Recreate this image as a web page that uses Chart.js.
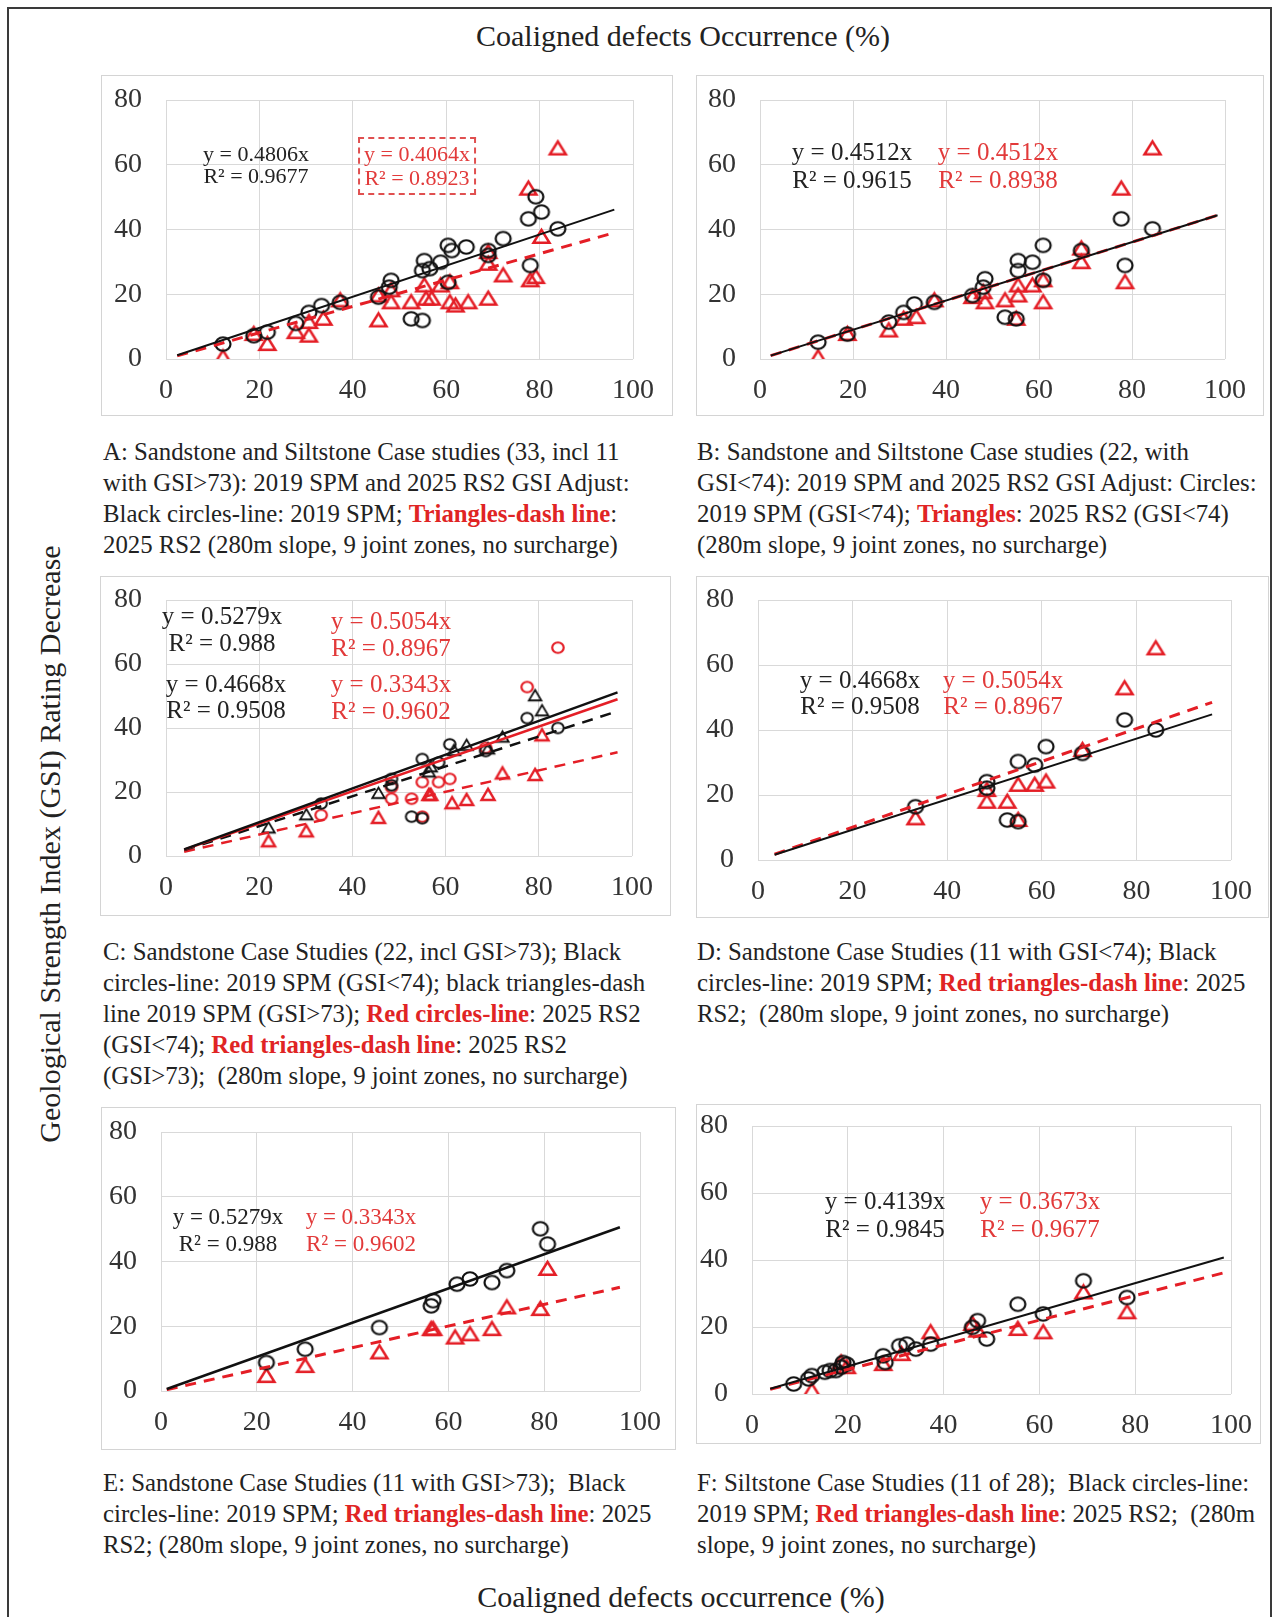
<!DOCTYPE html>
<html>
<head>
<meta charset="utf-8">
<script src="https://cdn.jsdelivr.net/npm/chart.js@4.4.1/dist/chart.umd.min.js"></script>
<style>
  body { margin: 0; width: 1274px; height: 1617px; position: relative; overflow: hidden; background: #fff;
         font-family: "Liberation Serif", "Times New Roman", serif; color: #222; }
  .frame { position: absolute; left: 7px; top: 7px; width: 1265px; height: 1660px; border: 2px solid #3a3a3a; box-sizing: border-box; }
  .box { position: absolute; border: 1px solid #d4d4d4; box-sizing: border-box; }
  canvas { position: absolute; }
  .cap { position: absolute; font-size: 24.8px; line-height: 31px; white-space: nowrap; }
  .cap b { color: #e02424; }
  .eq { position: absolute; white-space: nowrap; text-align: center; transform: translateX(-50%); }
  .red { color: #e23a3a; }
  .title { position: absolute; font-size: 30px; white-space: nowrap; transform: translate(-50%, -50%); }
</style>
</head>
<body>
<div class="frame"></div>

<div class="title" style="left:683px; top:36px;">Coaligned defects Occurrence (%)</div>
<div class="title" style="left:681px; top:1597px;">Coaligned defects occurrence (%)</div>
<div class="title" style="left:50px; top:844px; transform: translate(-50%, -50%) rotate(-90deg);">Geological Strength Index (GSI) Rating Decrease</div>

<div class="cap" style="left:103px; top:436px;">A: Sandstone and Siltstone Case studies (33, incl 11<br>with GSI&gt;73): 2019 SPM and 2025 RS2 GSI Adjust:<br>Black circles-line: 2019 SPM; <b>Triangles-dash line</b>:<br>2025 RS2 (280m slope, 9 joint zones, no surcharge)</div>
<div class="cap" style="left:697px; top:436px;">B: Sandstone and Siltstone Case studies (22, with<br>GSI&lt;74): 2019 SPM and 2025 RS2 GSI Adjust: Circles:<br>2019 SPM (GSI&lt;74); <b>Triangles</b>: 2025 RS2 (GSI&lt;74)<br>(280m slope, 9 joint zones, no surcharge)</div>
<div class="cap" style="left:103px; top:936px;">C: Sandstone Case Studies (22, incl GSI&gt;73); Black<br>circles-line: 2019 SPM (GSI&lt;74); black triangles-dash<br>line 2019 SPM (GSI&gt;73); <b>Red circles-line</b>: 2025 RS2<br>(GSI&lt;74); <b>Red triangles-dash line</b>: 2025 RS2<br>(GSI&gt;73);&nbsp; (280m slope, 9 joint zones, no surcharge)</div>
<div class="cap" style="left:697px; top:936px;">D: Sandstone Case Studies (11 with GSI&lt;74); Black<br>circles-line: 2019 SPM; <b>Red triangles-dash line</b>: 2025<br>RS2;&nbsp; (280m slope, 9 joint zones, no surcharge)</div>
<div class="cap" style="left:103px; top:1467px;">E: Sandstone Case Studies (11 with GSI&gt;73);&nbsp; Black<br>circles-line: 2019 SPM; <b>Red triangles-dash line</b>: 2025<br>RS2; (280m slope, 9 joint zones, no surcharge)</div>
<div class="cap" style="left:697px; top:1467px;">F: Siltstone Case Studies (11 of 28);&nbsp; Black circles-line:<br>2019 SPM; <b>Red triangles-dash line</b>: 2025 RS2;&nbsp; (280m<br>slope, 9 joint zones, no surcharge)</div>

<script>
// axis ticks shared by every panel
const xTicks = [0, 20, 40, 60, 80, 100];
const yTicks = [0, 20, 40, 60, 80];

// A: sandstone + siltstone, all cases
const aSpmX = [12.2, 18.8, 21.7, 27.8, 30.6, 33.3, 37.3, 45.5, 47.8, 48.2, 52.5, 54.9, 54.9, 55.3, 56.5, 58.8, 60.4, 60.4, 61.2, 64.3, 69.0, 69.0, 72.2, 77.6, 78.0, 79.2, 80.4, 83.9];
const aSpmY = [4.6, 7.2, 8.3, 11.0, 14.4, 16.5, 17.5, 19.1, 22.2, 24.3, 12.4, 11.9, 27.3, 30.4, 27.9, 29.9, 23.7, 35.1, 33.5, 34.6, 32.0, 33.5, 37.2, 43.3, 28.9, 50.1, 45.4, 40.2];
const aRs2X = [12.2, 18.8, 21.7, 27.8, 30.6, 30.6, 33.7, 37.3, 45.5, 45.5, 48.2, 48.2, 52.5, 55.3, 55.7, 56.9, 58.8, 60.8, 60.8, 62.0, 64.7, 69.0, 69.0, 69.0, 72.2, 77.6, 78.0, 79.2, 80.4, 83.9];
const aRs2Y = [0.5, 7.7, 4.6, 8.3, 7.2, 11.4, 12.4, 18.1, 11.9, 19.6, 17.5, 21.2, 17.5, 22.7, 18.6, 18.6, 22.7, 23.7, 17.5, 16.5, 17.5, 18.6, 29.4, 33.0, 25.8, 52.6, 24.3, 25.3, 37.7, 65.0];

// B: sandstone + siltstone, GSI<74
const bSpmX = [12.5, 18.8, 27.7, 30.9, 33.2, 37.5, 45.7, 48.0, 48.4, 52.7, 55.1, 55.5, 55.5, 58.6, 60.9, 60.9, 69.1, 77.7, 78.5, 84.4];
const bSpmY = [5.2, 7.7, 11.4, 14.4, 17.0, 17.5, 19.6, 22.2, 24.8, 12.9, 12.4, 27.3, 30.4, 29.9, 24.3, 35.1, 33.5, 43.3, 28.9, 40.2];
const bRs2X = [12.5, 18.8, 27.7, 30.9, 33.6, 37.5, 45.7, 48.0, 48.4, 52.7, 55.1, 55.5, 55.5, 58.6, 60.9, 60.9, 69.1, 69.1, 77.7, 78.5, 84.4];
const bRs2Y = [0.5, 7.7, 8.8, 12.4, 12.9, 18.1, 19.1, 20.6, 17.5, 18.1, 12.4, 19.6, 22.7, 22.7, 24.3, 17.5, 29.9, 34.1, 52.6, 23.7, 65.0];

// D: sandstone GSI<74 (also the circles in C)
const dSpmX = [33.3, 48.4, 48.4, 52.7, 55.0, 55.0, 58.5, 60.9, 68.6, 77.5, 84.1];
const dSpmY = [16.4, 22.1, 24.1, 12.3, 11.8, 30.3, 29.2, 34.9, 32.8, 43.1, 40.0];
const dRs2X = [33.3, 48.4, 48.4, 52.7, 55.0, 55.0, 58.5, 60.9, 68.6, 77.5, 84.1];
const dRs2Y = [12.8, 17.9, 21.5, 17.9, 12.3, 23.1, 23.1, 24.1, 33.8, 52.8, 65.1];

// E: sandstone GSI>73 (also the triangles in C)
const eSpmX = [22.0, 30.1, 45.6, 56.4, 56.8, 61.8, 64.5, 69.1, 72.2, 79.2, 80.7];
const eSpmY = [8.8, 12.9, 19.6, 26.3, 27.9, 33.0, 34.6, 33.5, 37.2, 50.1, 45.4];
const eRs2X = [22.0, 30.1, 45.6, 56.4, 56.8, 61.4, 64.5, 69.1, 72.2, 79.2, 80.7];
const eRs2Y = [4.6, 7.7, 11.9, 19.1, 19.1, 16.5, 17.5, 19.1, 25.8, 25.3, 37.7];

// F: siltstone
const fSpmX = [8.7, 11.8, 12.5, 15.2, 16.3, 17.5, 18.6, 19.0, 19.8, 27.4, 27.8, 30.8, 32.3, 34.2, 37.3, 46.0, 47.1, 49.0, 55.5, 60.8, 69.2, 78.3];
const fSpmY = [3.0, 4.5, 5.5, 6.5, 7.0, 7.0, 8.0, 9.4, 8.9, 11.4, 9.4, 14.4, 14.9, 13.4, 14.9, 19.9, 21.9, 16.4, 26.8, 23.9, 33.8, 28.8];
const fRs2X = [12.5, 18.6, 19.8, 27.4, 31.2, 37.3, 46.0, 47.1, 55.5, 60.8, 69.2, 78.3];
const fRs2Y = [1.0, 9.4, 8.0, 8.9, 11.9, 18.4, 20.9, 18.9, 19.4, 18.4, 30.3, 24.4];

// trendline slopes (y = kx) and x-extent of each drawn trendline
const slopesA = [0.4806, 0.4064];
const slopesB = [0.4512, 0.4512];
const slopesC = [0.5279, 0.4668, 0.5054, 0.3343];
const slopesD = [0.4668, 0.5054];
const slopesE = [0.5279, 0.3343];
const slopesF = [0.4139, 0.3673];
const rangeA = [2.4, 96], rangeB = [2.3, 98.4], rangeC = [3.9, 96.9];
const rangeD = [3.5, 96], rangeE = [1.2, 95.8], rangeF = [3.8, 98.5];

const BLACK = "#111111", RED = "#e41e26";
const FONT = "'Liberation Serif', 'Times New Roman', serif";

const pts = (xs, ys) => xs.map((x, i) => ({ x: x, y: ys[i] }));
const trend = (k, r) => r.map(x => ({ x: x, y: k * x }));

// hollow marker sprites (slightly wider than tall, as in the source figure)
function sprite(shape, color, w, h, lw) {
  const c = document.createElement("canvas");
  c.width = Math.ceil(w + lw * 2 + 2); c.height = Math.ceil(h + lw * 2 + 2);
  const g = c.getContext("2d");
  const cx = c.width / 2, cy = c.height / 2;
  g.strokeStyle = color; g.lineWidth = lw; g.lineJoin = "miter";
  g.beginPath();
  if (shape === "circle") {
    g.ellipse(cx, cy, w / 2, h / 2, 0, 0, Math.PI * 2);
  } else {
    g.moveTo(cx, cy - h * 0.55);
    g.lineTo(cx + w / 2, cy + h * 0.45);
    g.lineTo(cx - w / 2, cy + h * 0.45);
    g.closePath();
  }
  g.stroke();
  return c;
}

function markers(data, img) {
  return { data: data, showLine: false, pointStyle: img, pointRadius: 8, pointHoverRadius: 8 };
}
function line(data, color, w, dash) {
  return {
    type: "line", data: data, borderColor: color, borderWidth: w, borderDash: dash || [],
    pointRadius: 0, fill: false, tension: 0
  };
}

const blackCircle = sprite("circle", BLACK, 15, 13.5, 2.2);
const redTriangle = sprite("triangle", RED, 16, 13, 2.5);
const smallBlackCircle = sprite("circle", BLACK, 11.5, 10.5, 2);
const smallRedCircle = sprite("circle", RED, 11.5, 10.5, 2.2);
const smallBlackTriangle = sprite("triangle", BLACK, 12.5, 10.5, 1.8);
const smallRedTriangle = sprite("triangle", RED, 13, 11, 2.4);

function panel(box, plot, datasets) {
  const w = box.r - box.l, h = box.b - box.t;
  const c = document.createElement("canvas");
  c.width = w; c.height = h;
  c.style.left = box.l + "px"; c.style.top = box.t + "px";
  c.style.width = w + "px"; c.style.height = h + "px";
  document.body.appendChild(c);
  const frame = document.createElement("div");
  frame.className = "box";
  frame.style.cssText = `left:${box.l}px;top:${box.t}px;width:${w}px;height:${h}px;`;
  document.body.appendChild(frame);

  const tickFont = { family: FONT, size: 28 };
  new Chart(c, {
    type: "scatter",
    data: { datasets: datasets },
    options: {
      responsive: false, animation: false, devicePixelRatio: 1,
      layout: { padding: { top: plot.t - box.t, right: box.r - plot.r, left: 0, bottom: 0 } },
      plugins: { legend: { display: false }, tooltip: { enabled: false } },
      scales: {
        x: {
          type: "linear", min: 0, max: 100,
          afterBuildTicks: s => { s.ticks = xTicks.map(v => ({ value: v })); },
          afterFit: s => { s.height = box.b - plot.b; s.paddingLeft = 0; s.paddingRight = 0; },
          grid: { color: "#d9d9d9", drawTicks: false },
          border: { display: false },
          ticks: { font: tickFont, color: "#333", padding: 15, maxRotation: 0 }
        },
        y: {
          type: "linear", min: 0, max: 80,
          afterBuildTicks: s => { s.ticks = yTicks.map(v => ({ value: v })); },
          afterFit: s => { s.width = plot.l - box.l; s.paddingTop = 0; s.paddingBottom = 0; },
          grid: { color: "#d9d9d9", drawTicks: false },
          border: { display: false },
          ticks: { font: tickFont, color: "#333", padding: 24 }
        }
      }
    }
  });
}

function eq(cx, top, size, lh, lines, red, boxed) {
  const d = document.createElement("div");
  d.className = "eq" + (red ? " red" : "");
  d.style.left = cx + "px"; d.style.top = top + "px";
  d.style.fontSize = size + "px"; d.style.lineHeight = lh + "px";
  d.innerHTML = lines.join("<br>");
  if (boxed) {
    d.style.border = "2px dashed #e05050";
    d.style.padding = "3px 4px";
  }
  document.body.appendChild(d);
}

// ---- A
panel({ l: 101, t: 75, r: 673, b: 416 }, { l: 166, t: 100, r: 633, b: 359 }, [
  line(trend(slopesA[0], rangeA), BLACK, 2),
  line(trend(slopesA[1], rangeA), RED, 3, [11, 8]),
  markers(pts(aSpmX, aSpmY), blackCircle),
  markers(pts(aRs2X, aRs2Y), redTriangle)
]);
eq(256, 143, 22, 22, ["y = 0.4806x", "R² = 0.9677"], false);
eq(417, 137, 22, 24, ["y = 0.4064x", "R² = 0.8923"], true, true);

// ---- B
panel({ l: 696, t: 75, r: 1264, b: 416 }, { l: 760, t: 100, r: 1225, b: 359 }, [
  line(trend(slopesB[0], rangeB), BLACK, 2),
  line(trend(slopesB[1], rangeB), RED, 3, [11, 8]),
  markers(pts(bSpmX, bSpmY), blackCircle),
  markers(pts(bRs2X, bRs2Y), redTriangle)
]);
eq(852, 138, 25, 28, ["y = 0.4512x", "R² = 0.9615"], false);
eq(998, 138, 25, 28, ["y = 0.4512x", "R² = 0.8938"], true);

// ---- C
panel({ l: 100, t: 576, r: 671, b: 916 }, { l: 166, t: 600, r: 632, b: 856 }, [
  line(trend(slopesC[0], rangeC), BLACK, 2.5),
  line(trend(slopesC[2], rangeC), RED, 2.5),
  line(trend(slopesC[1], rangeC), BLACK, 2.5, [11, 8]),
  line(trend(slopesC[3], rangeC), RED, 2.5, [11, 8]),
  markers(pts(dSpmX, dSpmY), smallBlackCircle),
  markers(pts(eSpmX, eSpmY), smallBlackTriangle),
  markers(pts(dRs2X, dRs2Y), smallRedCircle),
  markers(pts(eRs2X, eRs2Y), smallRedTriangle)
]);
eq(222, 602, 25, 27, ["y = 0.5279x", "R² = 0.988"], false);
eq(226, 671, 25, 26, ["y = 0.4668x", "R² = 0.9508"], false);
eq(391, 607, 25, 27, ["y = 0.5054x", "R² = 0.8967"], true);
eq(391, 670, 25, 27, ["y = 0.3343x", "R² = 0.9602"], true);

// ---- D
panel({ l: 696, t: 576, r: 1269, b: 918 }, { l: 758, t: 600, r: 1231, b: 860 }, [
  line(trend(slopesD[0], rangeD), BLACK, 2),
  line(trend(slopesD[1], rangeD), RED, 3, [11, 8]),
  markers(pts(dSpmX, dSpmY), blackCircle),
  markers(pts(dRs2X, dRs2Y), redTriangle)
]);
eq(860, 667, 25, 26, ["y = 0.4668x", "R² = 0.9508"], false);
eq(1003, 667, 25, 26, ["y = 0.5054x", "R² = 0.8967"], true);

// ---- E
panel({ l: 101, t: 1107, r: 676, b: 1450 }, { l: 161, t: 1132, r: 640, b: 1391 }, [
  line(trend(slopesE[0], rangeE), BLACK, 2.5),
  line(trend(slopesE[1], rangeE), RED, 3, [11, 8]),
  markers(pts(eSpmX, eSpmY), blackCircle),
  markers(pts(eRs2X, eRs2Y), redTriangle)
]);
eq(228, 1203, 23, 27, ["y = 0.5279x", "R² = 0.988"], false);
eq(361, 1203, 23, 27, ["y = 0.3343x", "R² = 0.9602"], true);

// ---- F
panel({ l: 696, t: 1104, r: 1261, b: 1444 }, { l: 752, t: 1126, r: 1231, b: 1394 }, [
  line(trend(slopesF[0], rangeF), BLACK, 2),
  line(trend(slopesF[1], rangeF), RED, 3, [11, 8]),
  markers(pts(fSpmX, fSpmY), blackCircle),
  markers(pts(fRs2X, fRs2Y), redTriangle)
]);
eq(885, 1187, 25, 28, ["y = 0.4139x", "R² = 0.9845"], false);
eq(1040, 1187, 25, 28, ["y = 0.3673x", "R² = 0.9677"], true);
</script>
</body>
</html>
